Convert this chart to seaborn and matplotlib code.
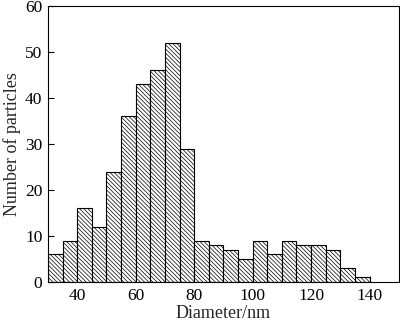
import numpy as np
import pandas as pd
import matplotlib
matplotlib.use('Agg')
import matplotlib.pyplot as plt
import seaborn as sns

# --- data ---
bin_edges = list(range(30, 145, 5))
counts = [6, 9, 16, 12, 24, 36, 43, 46, 52, 29,
          9, 8, 7, 5, 9, 6, 9, 8, 8, 7, 3, 1]
x_ticks = [40, 60, 80, 100, 120, 140]
y_ticks = [0, 10, 20, 30, 40, 50, 60]

centers = [e + 2.5 for e in bin_edges[:-1]]
df = pd.DataFrame({'diameter': centers, 'count': counts})

sns.set_style('ticks')
plt.rcParams['font.family'] = ['Liberation Serif', 'DejaVu Serif']
plt.rcParams['hatch.linewidth'] = 0.5

fig = plt.figure(figsize=(4.0, 3.21), dpi=100)
ax = fig.add_axes([0.12, 0.1215, 0.877, 0.86])

sns.histplot(data=df, x='diameter', weights='count', bins=bin_edges,
             color='white', edgecolor='black', linewidth=0.8, alpha=1, ax=ax)
for p in ax.patches:
    p.set_hatch('\\' * 8)

ax.set_xlim(30, 150)
ax.set_ylim(0, 60)
ax.set_xticks(x_ticks)
ax.set_yticks(y_ticks)
ax.set_xlabel('Diameter/nm', fontsize=13, labelpad=1)
ax.set_ylabel('Number of particles', fontsize=13, labelpad=3)
ax.tick_params(labelsize=12.5, direction='in', length=4, width=0.8,
               pad=4, colors='black')
for s in ax.spines.values():
    s.set_visible(True)
    s.set_linewidth(0.8)
    s.set_color('black')

fig.savefig('out.png', dpi=100)
